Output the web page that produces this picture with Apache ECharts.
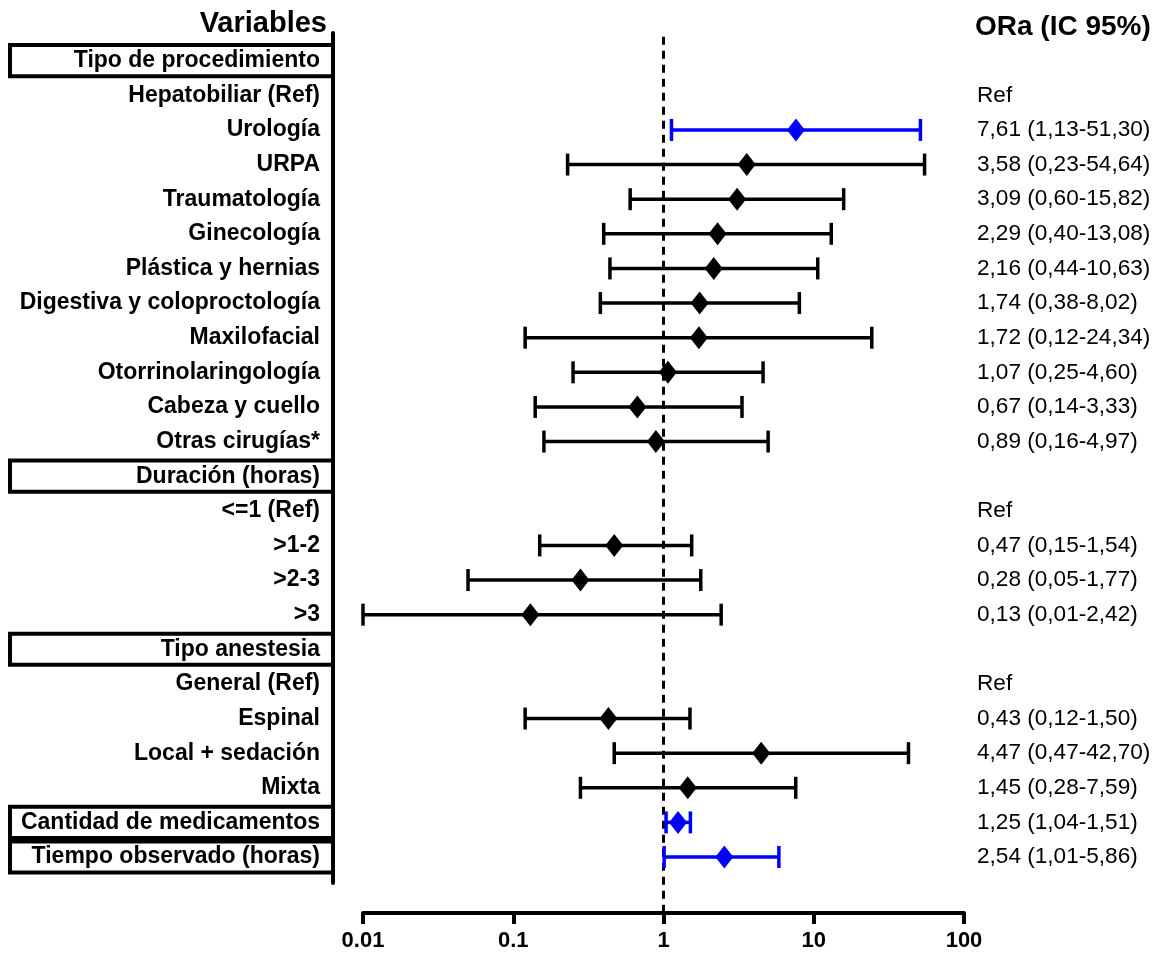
<!DOCTYPE html>
<html>
<head>
<meta charset="utf-8">
<title>ORa forest plot</title>
<script src="https://cdn.jsdelivr.net/npm/echarts@6/dist/echarts.min.js"></script>
<style>
  html, body { margin: 0; padding: 0; background: #fff; }
  #chart { width: 1160px; height: 954px; }
</style>
</head>
<body>
<div id="chart"></div>
<script>
// filas del gráfico (de arriba a abajo)
const rowLabels = [
  'Tipo de procedimiento', 'Hepatobiliar (Ref)', 'Urología', 'URPA', 'Traumatología',
  'Ginecología', 'Plástica y hernias', 'Digestiva y coloproctología', 'Maxilofacial',
  'Otorrinolaringología', 'Cabeza y cuello', 'Otras cirugías*', 'Duración (horas)',
  '<=1 (Ref)', '>1-2', '>2-3', '>3', 'Tipo anestesia', 'General (Ref)', 'Espinal',
  'Local + sedación', 'Mixta', 'Cantidad de medicamentos', 'Tiempo observado (horas)'
];
const headerRows = [0, 12, 17, 22, 23];
const refRows = [1, 13, 18];
// ORa e IC 95%
const orValues = [null, null, 7.61, 3.58, 3.09, 2.29, 2.16, 1.74, 1.72, 1.07, 0.67, 0.89,
  null, null, 0.47, 0.28, 0.13, null, null, 0.43, 4.47, 1.45, 1.25, 2.54];
const ciLow = [null, null, 1.13, 0.23, 0.60, 0.40, 0.44, 0.38, 0.12, 0.25, 0.14, 0.16,
  null, null, 0.15, 0.05, 0.01, null, null, 0.12, 0.47, 0.28, 1.04, 1.01];
const ciHigh = [null, null, 51.30, 54.64, 15.82, 13.08, 10.63, 8.02, 24.34, 4.60, 3.33, 4.97,
  null, null, 1.54, 1.77, 2.42, null, null, 1.50, 42.70, 7.59, 1.51, 5.86];
const significantRows = [2, 22, 23];
const xTickLabels = ['0.01', '0.1', '1', '10', '100'];

const FONT = 'Liberation Sans, Arial, Helvetica, sans-serif';
const BLUE = '#0000ff';
const BLACK = '#000000';

function fmt(v) {
  return v.toFixed(2).replace('.', ',');
}
const rightTexts = rowLabels.map((_, i) => {
  if (refRows.includes(i)) return 'Ref';
  if (orValues[i] == null) return '';
  return fmt(orValues[i]) + ' (' + fmt(ciLow[i]) + '-' + fmt(ciHigh[i]) + ')';
});

const rowIdx = rowLabels.map((_, i) => i);
const barData = [];
const pointData = [];
rowIdx.forEach(i => {
  if (orValues[i] == null) return;
  const sig = significantRows.includes(i) ? 1 : 0;
  barData.push([ciLow[i], ciHigh[i], i, sig]);
  pointData.push({ value: [orValues[i], i], itemStyle: { color: sig ? BLUE : BLACK, opacity: 1 } });
});

const myChart = echarts.init(document.getElementById('chart'));
myChart.setOption({
  animation: false,
  backgroundColor: '#fff',
  title: [
    {
      text: 'Variables', right: 833, top: 9, padding: 0,
      textStyle: { fontFamily: FONT, fontSize: 29, fontWeight: 'bold', color: BLACK }
    },
    {
      text: 'ORa (IC 95%)', left: 975, top: 13, padding: 0,
      textStyle: { fontFamily: FONT, fontSize: 28, fontWeight: 'bold', color: BLACK }
    }
  ],
  grid: {
    left: 363, right: 196, top: 33, bottom: 71,
    containLabel: false, outerBoundsMode: 'none'
  },
  xAxis: {
    type: 'log', logBase: 10, min: 0.01, max: 100,
    position: 'bottom', offset: 30,
    axisLine: { show: true, onZero: false, lineStyle: { color: BLACK, width: 4 } },
    axisTick: { show: true, inside: false, length: 11, lineStyle: { color: BLACK, width: 4 } },
    minorTick: { show: false },
    splitLine: { show: false },
    axisLabel: {
      color: BLACK, fontFamily: FONT, fontSize: 22, fontWeight: 'bold', margin: 17,
      formatter: v => xTickLabels[Math.round(Math.log10(v)) + 2]
    }
  },
  yAxis: [
    {
      type: 'value', inverse: true, min: -0.8, max: 23.75,
      position: 'left', offset: 30,
      axisLine: { show: true, onZero: false, lineStyle: { color: BLACK, width: 4 } },
      axisTick: { show: false },
      splitLine: { show: false },
      axisLabel: {
        customValues: rowIdx,
        color: BLACK, fontFamily: FONT, fontSize: 23, fontWeight: 'bold', margin: 13,
        padding: [4, 0, 0, 0],
        formatter: v => rowLabels[v]
      }
    },
    {
      type: 'value', inverse: true, min: -0.8, max: 23.75,
      position: 'right', offset: 0,
      axisLine: { show: false },
      axisTick: { show: false },
      splitLine: { show: false },
      axisLabel: {
        customValues: rowIdx,
        color: BLACK, fontFamily: FONT, fontSize: 22.6, margin: 13,
        padding: [4, 0, 0, 0],
        formatter: v => rightTexts[v]
      }
    }
  ],
  series: [
    {
      // recuadros de los encabezados
      type: 'custom',
      clip: false,
      silent: true,
      data: headerRows.map(r => [1, r]),
      encode: { x: 0, y: 1 },
      renderItem: function (params, api) {
        const top = api.coord([1, api.value(1) - 0.45])[1];
        const bottom = api.coord([1, api.value(1) + 0.45])[1];
        const xRight = params.coordSys.x - 30;
        const xLeft = 10;
        return {
          type: 'rect',
          shape: { x: xLeft, y: top, width: xRight - xLeft, height: bottom - top },
          style: { fill: null, stroke: BLACK, lineWidth: 4 }
        };
      },
      z: 1
    },
    {
      // línea de referencia OR = 1
      type: 'line',
      clip: false,
      silent: true,
      symbol: 'none',
      data: [[1, -0.69], [1, 24.6]],
      lineStyle: { color: BLACK, width: 3, type: [8, 6] },
      z: 2
    },
    {
      // intervalos de confianza
      type: 'custom',
      clip: false,
      data: barData,
      encode: { x: [0, 1], y: 2 },
      renderItem: function (params, api) {
        const p0 = api.coord([api.value(0), api.value(2)]);
        const p1 = api.coord([api.value(1), api.value(2)]);
        const color = api.value(3) ? BLUE : BLACK;
        const cap = 11;
        const style = { stroke: color, lineWidth: 3.5 };
        return {
          type: 'group',
          children: [
            { type: 'line', shape: { x1: p0[0], y1: p0[1], x2: p1[0], y2: p1[1] }, style: style },
            { type: 'line', shape: { x1: p0[0], y1: p0[1] - cap, x2: p0[0], y2: p0[1] + cap }, style: style },
            { type: 'line', shape: { x1: p1[0], y1: p1[1] - cap, x2: p1[0], y2: p1[1] + cap }, style: style }
          ]
        };
      },
      z: 3
    },
    {
      // ORa
      type: 'scatter',
      symbol: 'diamond',
      symbolSize: [18, 23],
      itemStyle: { opacity: 1 },
      data: pointData,
      z: 4
    }
  ]
});
</script>
</body>
</html>
